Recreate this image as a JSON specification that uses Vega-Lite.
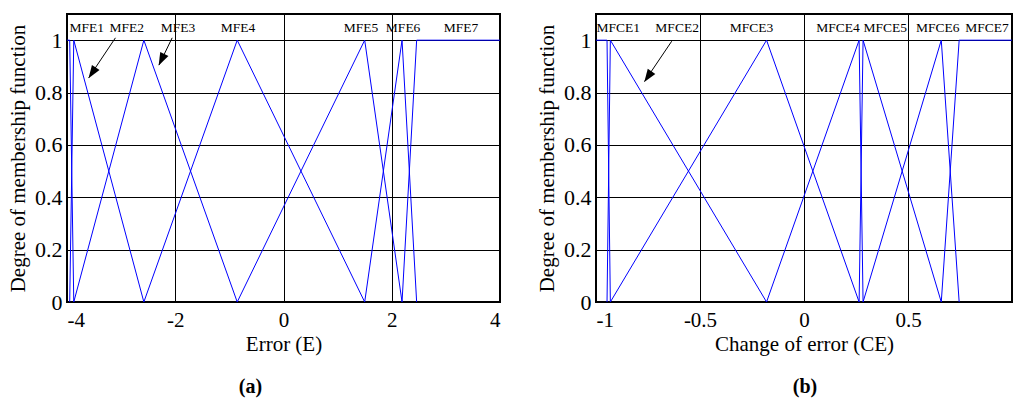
{
  "$schema": "https://vega.github.io/schema/vega-lite/v6.json",
  "background": "white",
  "padding": {"left": 6, "top": 13, "right": 0, "bottom": 0},
  "spacing": 32,
  "config": {
    "font": "Liberation Serif",
    "view": {"stroke": "black", "strokeWidth": 2},
    "axis": {
      "grid": true, "gridColor": "black", "gridOpacity": 1, "gridWidth": 1,
      "ticks": false, "domain": false,
      "labelFont": "Liberation Serif", "titleFont": "Liberation Serif",
      "labelColor": "black", "titleColor": "black",
      "labelFontSize": 21, "titleFontSize": 21, "titleFontWeight": "normal"
    }
  },
  "datasets": {
    "mfE": [
      {"mf": "MFE1", "i": 0, "x": -4, "y": 1}, {"mf": "MFE1", "i": 1, "x": -3.95, "y": 1}, {"mf": "MFE1", "i": 2, "x": -3.875, "y": 0},
      {"mf": "MFE2", "i": 0, "x": -3.95, "y": 0}, {"mf": "MFE2", "i": 1, "x": -3.875, "y": 1}, {"mf": "MFE2", "i": 2, "x": -2.58, "y": 0},
      {"mf": "MFE3", "i": 0, "x": -3.875, "y": 0}, {"mf": "MFE3", "i": 1, "x": -2.58, "y": 1}, {"mf": "MFE3", "i": 2, "x": -0.855, "y": 0},
      {"mf": "MFE4", "i": 0, "x": -2.58, "y": 0}, {"mf": "MFE4", "i": 1, "x": -0.855, "y": 1}, {"mf": "MFE4", "i": 2, "x": 1.5, "y": 0},
      {"mf": "MFE5", "i": 0, "x": -0.855, "y": 0}, {"mf": "MFE5", "i": 1, "x": 1.5, "y": 1}, {"mf": "MFE5", "i": 2, "x": 2.19, "y": 0},
      {"mf": "MFE6", "i": 0, "x": 1.5, "y": 0}, {"mf": "MFE6", "i": 1, "x": 2.19, "y": 1}, {"mf": "MFE6", "i": 2, "x": 2.46, "y": 0},
      {"mf": "MFE7", "i": 0, "x": 2.19, "y": 0}, {"mf": "MFE7", "i": 1, "x": 2.46, "y": 1}, {"mf": "MFE7", "i": 2, "x": 4, "y": 1}
    ],
    "mfCE": [
      {"mf": "MFCE1", "i": 0, "x": -1, "y": 1}, {"mf": "MFCE1", "i": 1, "x": -0.947, "y": 1}, {"mf": "MFCE1", "i": 2, "x": -0.931, "y": 0},
      {"mf": "MFCE2", "i": 0, "x": -0.947, "y": 0}, {"mf": "MFCE2", "i": 1, "x": -0.931, "y": 1}, {"mf": "MFCE2", "i": 2, "x": -0.18, "y": 0},
      {"mf": "MFCE3", "i": 0, "x": -0.931, "y": 0}, {"mf": "MFCE3", "i": 1, "x": -0.18, "y": 1}, {"mf": "MFCE3", "i": 2, "x": 0.265, "y": 0},
      {"mf": "MFCE4", "i": 0, "x": -0.18, "y": 0}, {"mf": "MFCE4", "i": 1, "x": 0.265, "y": 1}, {"mf": "MFCE4", "i": 2, "x": 0.284, "y": 0},
      {"mf": "MFCE5", "i": 0, "x": 0.265, "y": 0}, {"mf": "MFCE5", "i": 1, "x": 0.284, "y": 1}, {"mf": "MFCE5", "i": 2, "x": 0.66, "y": 0},
      {"mf": "MFCE6", "i": 0, "x": 0.284, "y": 0}, {"mf": "MFCE6", "i": 1, "x": 0.66, "y": 1}, {"mf": "MFCE6", "i": 2, "x": 0.746, "y": 0},
      {"mf": "MFCE7", "i": 0, "x": 0.66, "y": 0}, {"mf": "MFCE7", "i": 1, "x": 0.746, "y": 1}, {"mf": "MFCE7", "i": 2, "x": 1, "y": 1}
    ],
    "lblE": [
      {"label": "MFE1", "x": -3.635, "y": 1.045}, {"label": "MFE2", "x": -2.895, "y": 1.045},
      {"label": "MFE3", "x": -1.95, "y": 1.045}, {"label": "MFE4", "x": -0.842, "y": 1.045},
      {"label": "MFE5", "x": 1.43, "y": 1.045}, {"label": "MFE6", "x": 2.21, "y": 1.045},
      {"label": "MFE7", "x": 3.28, "y": 1.045}
    ],
    "lblCE": [
      {"label": "MFCE1", "x": -0.893, "y": 1.045}, {"label": "MFCE2", "x": -0.61, "y": 1.045},
      {"label": "MFCE3", "x": -0.252, "y": 1.045}, {"label": "MFCE4", "x": 0.163, "y": 1.045},
      {"label": "MFCE5", "x": 0.391, "y": 1.045}, {"label": "MFCE6", "x": 0.643, "y": 1.045},
      {"label": "MFCE7", "x": 0.88, "y": 1.045}
    ],
    "arrE": [
      {"mf": "MFE2", "x1": -3.105, "y1": 1.009, "x2": -3.6, "y2": 0.856, "hx": -3.53, "hy": 0.877},
      {"mf": "MFE3", "x1": -2.057, "y1": 1.009, "x2": -2.3, "y2": 0.905, "hx": -2.25, "hy": 0.927}
    ],
    "arrCE": [
      {"mf": "MFCE2", "x1": -0.636, "y1": 0.996, "x2": -0.767, "y2": 0.842, "hx": -0.749, "hy": 0.862}
    ]
  },
  "hconcat": [
    {
      "width": 433,
      "height": 288,
      "title": {"text": "(a)", "orient": "bottom", "baseline": "top", "offset": 23, "dx": -33, "anchor": "middle", "font": "Liberation Serif", "fontSize": 20, "fontWeight": "bold", "color": "black"},
      "layer": [
        {
          "data": {"name": "mfE"},
          "mark": {"type": "line", "color": "#0000ff", "strokeWidth": 1},
          "encoding": {
            "x": {"field": "x", "type": "quantitative", "scale": {"domain": [-4, 4], "nice": false},
              "axis": {"values": [-4, -2, 0, 2, 4], "title": "Error (E)", "labelExpr": "datum.value + ''", "labelPadding": 7, "titlePadding": 3}},
            "y": {"field": "y", "type": "quantitative", "scale": {"domain": [0, 1.1], "nice": false},
              "axis": {"values": [0, 0.2, 0.4, 0.6, 0.8, 1], "title": "Degree of membership function", "labelExpr": "datum.value + ''", "labelFontSize": 22, "labelPadding": 5, "titlePadding": 6}},
            "detail": {"field": "mf"},
            "order": {"field": "i"}
          }
        },
        {
          "data": {"name": "lblE"},
          "mark": {"type": "text", "font": "Liberation Serif", "fontSize": 13.5, "color": "black"},
          "encoding": {
            "x": {"field": "x", "type": "quantitative"},
            "y": {"field": "y", "type": "quantitative"},
            "text": {"field": "label"}
          }
        },
        {
          "data": {"name": "arrE"},
          "mark": {"type": "rule", "color": "black", "strokeWidth": 1},
          "encoding": {
            "x": {"field": "x1", "type": "quantitative"},
            "y": {"field": "y1", "type": "quantitative"},
            "x2": {"field": "x2"},
            "y2": {"field": "y2"}
          }
        },
        {
          "data": {"name": "arrE"},
          "transform": [{"filter": "datum.mf == 'MFE2'"}],
          "mark": {"type": "point", "shape": "M0,-1L-0.65,0.85L0.65,0.85Z", "filled": true, "color": "black", "opacity": 1, "size": 196, "angle": 213.7},
          "encoding": {
            "x": {"field": "hx", "type": "quantitative"},
            "y": {"field": "hy", "type": "quantitative"}
          }
        },
        {
          "data": {"name": "arrE"},
          "transform": [{"filter": "datum.mf == 'MFE3'"}],
          "mark": {"type": "point", "shape": "M0,-1L-0.65,0.85L0.65,0.85Z", "filled": true, "color": "black", "opacity": 1, "size": 196, "angle": 206},
          "encoding": {
            "x": {"field": "hx", "type": "quantitative"},
            "y": {"field": "hy", "type": "quantitative"}
          }
        }
      ]
    },
    {
      "width": 416,
      "height": 288,
      "title": {"text": "(b)", "orient": "bottom", "baseline": "top", "offset": 23, "dx": 1, "anchor": "middle", "font": "Liberation Serif", "fontSize": 20, "fontWeight": "bold", "color": "black"},
      "layer": [
        {
          "data": {"name": "mfCE"},
          "mark": {"type": "line", "color": "#0000ff", "strokeWidth": 1},
          "encoding": {
            "x": {"field": "x", "type": "quantitative", "scale": {"domain": [-1, 1], "nice": false},
              "axis": {"values": [-1, -0.5, 0, 0.5], "title": "Change of error (CE)", "labelExpr": "datum.value + ''", "labelPadding": 7, "titlePadding": 3}},
            "y": {"field": "y", "type": "quantitative", "scale": {"domain": [0, 1.1], "nice": false},
              "axis": {"values": [0, 0.2, 0.4, 0.6, 0.8, 1], "title": "Degree of membership function", "labelExpr": "datum.value + ''", "labelFontSize": 22, "labelPadding": 5, "titlePadding": 6}},
            "detail": {"field": "mf"},
            "order": {"field": "i"}
          }
        },
        {
          "data": {"name": "lblCE"},
          "mark": {"type": "text", "font": "Liberation Serif", "fontSize": 13.5, "color": "black"},
          "encoding": {
            "x": {"field": "x", "type": "quantitative"},
            "y": {"field": "y", "type": "quantitative"},
            "text": {"field": "label"}
          }
        },
        {
          "data": {"name": "arrCE"},
          "mark": {"type": "rule", "color": "black", "strokeWidth": 1},
          "encoding": {
            "x": {"field": "x1", "type": "quantitative"},
            "y": {"field": "y1", "type": "quantitative"},
            "x2": {"field": "x2"},
            "y2": {"field": "y2"}
          }
        },
        {
          "data": {"name": "arrCE"},
          "mark": {"type": "point", "shape": "M0,-1L-0.65,0.85L0.65,0.85Z", "filled": true, "color": "black", "opacity": 1, "size": 196, "angle": 214},
          "encoding": {
            "x": {"field": "hx", "type": "quantitative"},
            "y": {"field": "hy", "type": "quantitative"}
          }
        }
      ]
    }
  ]
}
